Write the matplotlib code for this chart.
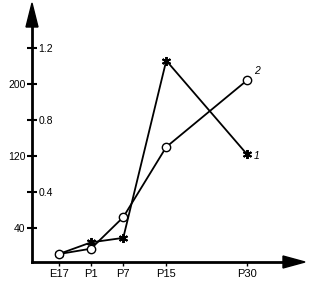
import matplotlib
matplotlib.use("Agg")
import matplotlib.pyplot as plt
from matplotlib.patches import Polygon

plt.rcParams['font.family'] = ['Liberation Sans', 'DejaVu Sans']

# Data
categories = ["E17", "P1", "P7", "P15", "P30"]
x_days = [-5, 1, 7, 15, 30]
series1 = [11, 24, 29, 226, 122]   # asterisks, label "1"
series2 = [11, 17, 52, 130, 204]   # circles, label "2"
left_ticks = [40, 120, 200]
left_ticklabels = ["40", "120", "200"]
right_ticks = [0.4, 0.8, 1.2]
right_ticklabels = ["0.4", "0.8", "1.2"]
scale_ratio = 200.0  # left value = right value * 200

W, H = 309, 283
fig = plt.figure(figsize=(W / 100, H / 100), dpi=100)
x0, y0, x1, y1 = 32, 262, 305, 3
ax = fig.add_axes([x0 / W, (H - y0) / H, (x1 - x0) / W, (y0 - y1) / H])
ax.set_xlim(-9.97, 40.8)
ax.set_ylim(2.2, 290)
for s in ax.spines.values():
    s.set_visible(False)

lw = 1.3
ax.plot(x_days, series1, color='black', lw=lw, marker=(6, 2, 0), markersize=6.5,
        mew=1.4, mec='black', zorder=3, clip_on=False)
ax.plot(x_days, series2, color='black', lw=lw, marker='o', markersize=6,
        mfc='white', mec='black', mew=1.0, zorder=4, clip_on=False)

ax.annotate("2", (x_days[-1], series2[-1]), xytext=(5, 3), textcoords='offset points',
            fontsize=7.5, style='italic', ha='left', va='bottom')
ax.annotate("1", (x_days[-1], series1[-1]), xytext=(5, -1), textcoords='offset points',
            fontsize=7.5, style='italic', ha='left', va='center')

# axes lines with arrowheads (axes fraction coordinates)
ax.plot([0, 0], [0, 0.92], transform=ax.transAxes, color='black', lw=2, clip_on=False)
ax.plot([0, 0.93], [0, 0], transform=ax.transAxes, color='black', lw=2, clip_on=False)
aw = (x1 - x0)
ah = (y0 - y1)
ax.add_patch(Polygon([(0, 1), (-6 / aw, 1 - 24 / ah), (6 / aw, 1 - 24 / ah)],
                     closed=True, transform=ax.transAxes, color='black', clip_on=False))
ax.add_patch(Polygon([(1, 0), (1 - 22 / aw, 6 / ah), (1 - 22 / aw, -6 / ah)],
                     closed=True, transform=ax.transAxes, color='black', clip_on=False))

# x ticks
ax.set_xticks(x_days)
ax.set_xticklabels(categories, fontsize=8)
ax.tick_params(axis='x', direction='out', length=3, width=1, pad=2)

# left y ticks
ax.set_yticks(left_ticks)
ax.set_yticklabels(left_ticklabels, fontsize=7.5)
ax.tick_params(axis='y', direction='inout', length=7, width=1.5, pad=1)

# right labels on same spine
sec = ax.secondary_yaxis(0, functions=(lambda v: v / scale_ratio, lambda v: v * scale_ratio))
sec.set_yticks(right_ticks)
sec.set_yticklabels(right_ticklabels, fontsize=7.5)
sec.spines['left'].set_visible(False)
sec.tick_params(axis='y', left=False, right=True, labelleft=False, labelright=True,
                direction='inout', length=7, width=1.5, pad=1)

fig.savefig("out.png", dpi=100)
